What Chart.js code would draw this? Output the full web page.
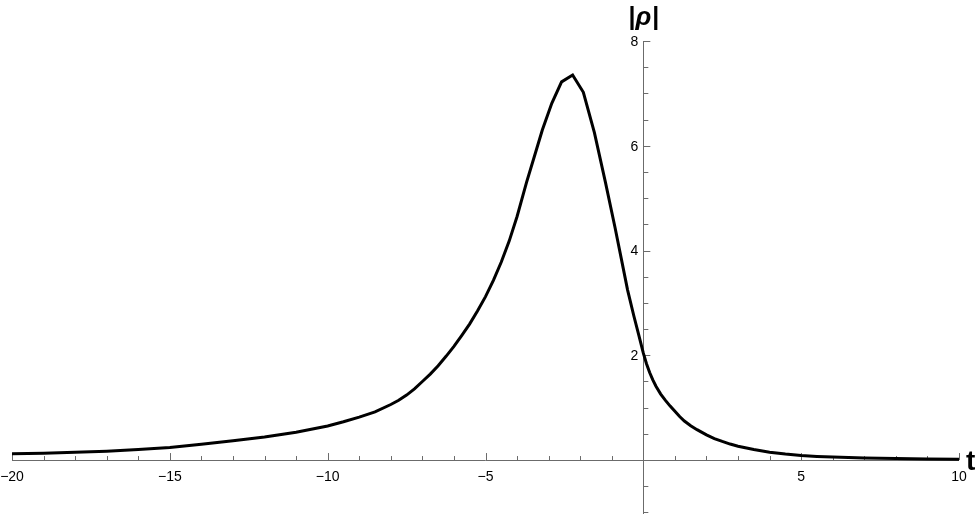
<!DOCTYPE html>
<html>
<head>
<meta charset="utf-8">
<script src="https://cdn.jsdelivr.net/npm/chart.js@4.4.1/dist/chart.umd.min.js"></script>
<style>
  html, body { margin: 0; padding: 0; background: #fff; }
  #grafica { display: block; }
</style>
</head>
<body>
<canvas id="grafica" width="980" height="518"></canvas>
<script>
// --- Datos ---
const tValores = [-20, -19, -18, -17, -16, -15, -14, -13, -12, -11, -10, -9.5, -9, -8.5,
  -8, -7.75, -7.5, -7.25, -7, -6.75, -6.5, -6.25, -6, -5.75, -5.5, -5.25, -5, -4.75, -4.5, -4.25, -4,
  -3.7, -3.4, -3.2, -2.9, -2.59, -2.24, -1.9, -1.55, -1.2, -0.9, -0.7, -0.5, -0.3, -0.15,
  0, 0.1, 0.2, 0.3, 0.4, 0.55, 0.7, 0.85, 1.0, 1.15, 1.3, 1.5, 1.7, 2.0, 2.25, 2.5, 2.75, 3.0, 3.5, 4.0, 4.5, 5.0, 5.5, 6.0, 7.0, 8.0, 9.0, 10.0];
const rhoValores = [0.12, 0.13, 0.15, 0.17, 0.20, 0.24, 0.30, 0.37, 0.44, 0.53, 0.65, 0.73, 0.82, 0.92,
  1.06, 1.14, 1.24, 1.36, 1.50, 1.64, 1.80, 1.98, 2.17, 2.38, 2.60, 2.85, 3.12, 3.43, 3.78, 4.18, 4.65,
  5.30, 5.90, 6.30, 6.81, 7.22, 7.35, 7.02, 6.25, 5.30, 4.45, 3.85, 3.25, 2.75, 2.40,
  2.04, 1.84, 1.67, 1.53, 1.41, 1.26, 1.14, 1.03, 0.93, 0.83, 0.745, 0.655, 0.58, 0.48, 0.41, 0.355, 0.305, 0.265,
  0.20, 0.15, 0.115, 0.088, 0.07, 0.056, 0.04, 0.028, 0.02, 0.015];

const xTicks = [-20, -15, -10, -5, 0, 5, 10];
const xEtiquetas = ['\u221220', '\u221215', '\u221210', '\u22125', '', '5', '10'];
const yTicks = [2, 4, 6, 8];
const yEtiquetas = ['2', '4', '6', '8'];
const tituloX = 't';
const tituloY = ['|', '\u03C1', '|'];

// --- Ejes cruzando en el origen ---
const ejesPlugin = {
  id: 'ejes',
  beforeDatasetsDraw(chart) {
    const ctx = chart.ctx;
    const sx = chart.scales.x, sy = chart.scales.y;
    const x0 = sx.getPixelForValue(0), y0 = sy.getPixelForValue(0);
    ctx.save();
    ctx.strokeStyle = '#6b6b6b';
    ctx.lineWidth = 1;
    ctx.beginPath();
    ctx.moveTo(sx.getPixelForValue(sx.min), Math.round(y0) + 0.5);
    ctx.lineTo(sx.getPixelForValue(sx.max), Math.round(y0) + 0.5);
    ctx.moveTo(Math.round(x0) + 0.5, sy.getPixelForValue(sy.min));
    ctx.lineTo(Math.round(x0) + 0.5, sy.getPixelForValue(sy.max));
    // marcas en x
    for (let v = sx.min; v <= sx.max; v += 1) {
      const px = Math.round(sx.getPixelForValue(v)) + 0.5;
      const largo = xTicks.includes(v) ? 7 : 4;
      ctx.moveTo(px, y0);
      ctx.lineTo(px, y0 - largo);
    }
    // marcas en y
    for (let v = -1; v <= sy.max + 0.001; v += 0.5) {
      const py = Math.round(sy.getPixelForValue(v)) + 0.5;
      const largo = yTicks.includes(v) ? 7 : 5;
      ctx.moveTo(x0, py);
      ctx.lineTo(x0 + largo, py);
    }
    ctx.stroke();

    ctx.fillStyle = '#000';
    ctx.font = '14px "Liberation Sans", Arial, sans-serif';
    ctx.textAlign = 'center';
    ctx.textBaseline = 'middle';
    xTicks.forEach((v, i) => {
      if (xEtiquetas[i]) ctx.fillText(xEtiquetas[i], sx.getPixelForValue(v), y0 + 17);
    });
    ctx.textAlign = 'right';
    yTicks.forEach((v, i) => {
      ctx.fillText(yEtiquetas[i], x0 - 5, sy.getPixelForValue(v) + 1);
    });

    ctx.font = 'bold 28px "Liberation Sans", Arial, sans-serif';
    ctx.textAlign = 'left';
    ctx.textBaseline = 'alphabetic';
    ctx.fillText(tituloX, 966, y0 + 10);

    // |rho| con rho en cursiva
    const fuentes = ['bold 25px "Liberation Sans", Arial, sans-serif',
      'bold italic 26px "Liberation Sans", Arial, sans-serif',
      'bold 25px "Liberation Sans", Arial, sans-serif'];
    let ancho = 0;
    const anchos = tituloY.map((s, i) => { ctx.font = fuentes[i]; const w = ctx.measureText(s).width; ancho += w; return w; });
    let px = x0 - ancho / 2;
    tituloY.forEach((s, i) => {
      ctx.font = fuentes[i];
      ctx.fillText(s, px + (i === 2 ? 1 : 0), 25);
      px += anchos[i];
    });
    ctx.restore();
  }
};

new Chart(document.getElementById('grafica'), {
  type: 'scatter',
  data: {
    datasets: [{
      data: tValores.map((t, i) => ({ x: t, y: rhoValores[i] })),
      showLine: true,
      borderColor: '#000',
      borderWidth: 3,
      pointRadius: 0,
      tension: 0,
      fill: false
    }]
  },
  options: {
    responsive: false,
    animation: false,
    layout: { padding: { left: 12, right: 21, top: 41, bottom: 4 } },
    plugins: { legend: { display: false }, tooltip: { enabled: false } },
    scales: {
      x: { type: 'linear', min: -20, max: 10, display: false },
      y: { type: 'linear', min: -1.03, max: 8, display: false }
    }
  },
  plugins: [ejesPlugin]
});
</script>
</body>
</html>
